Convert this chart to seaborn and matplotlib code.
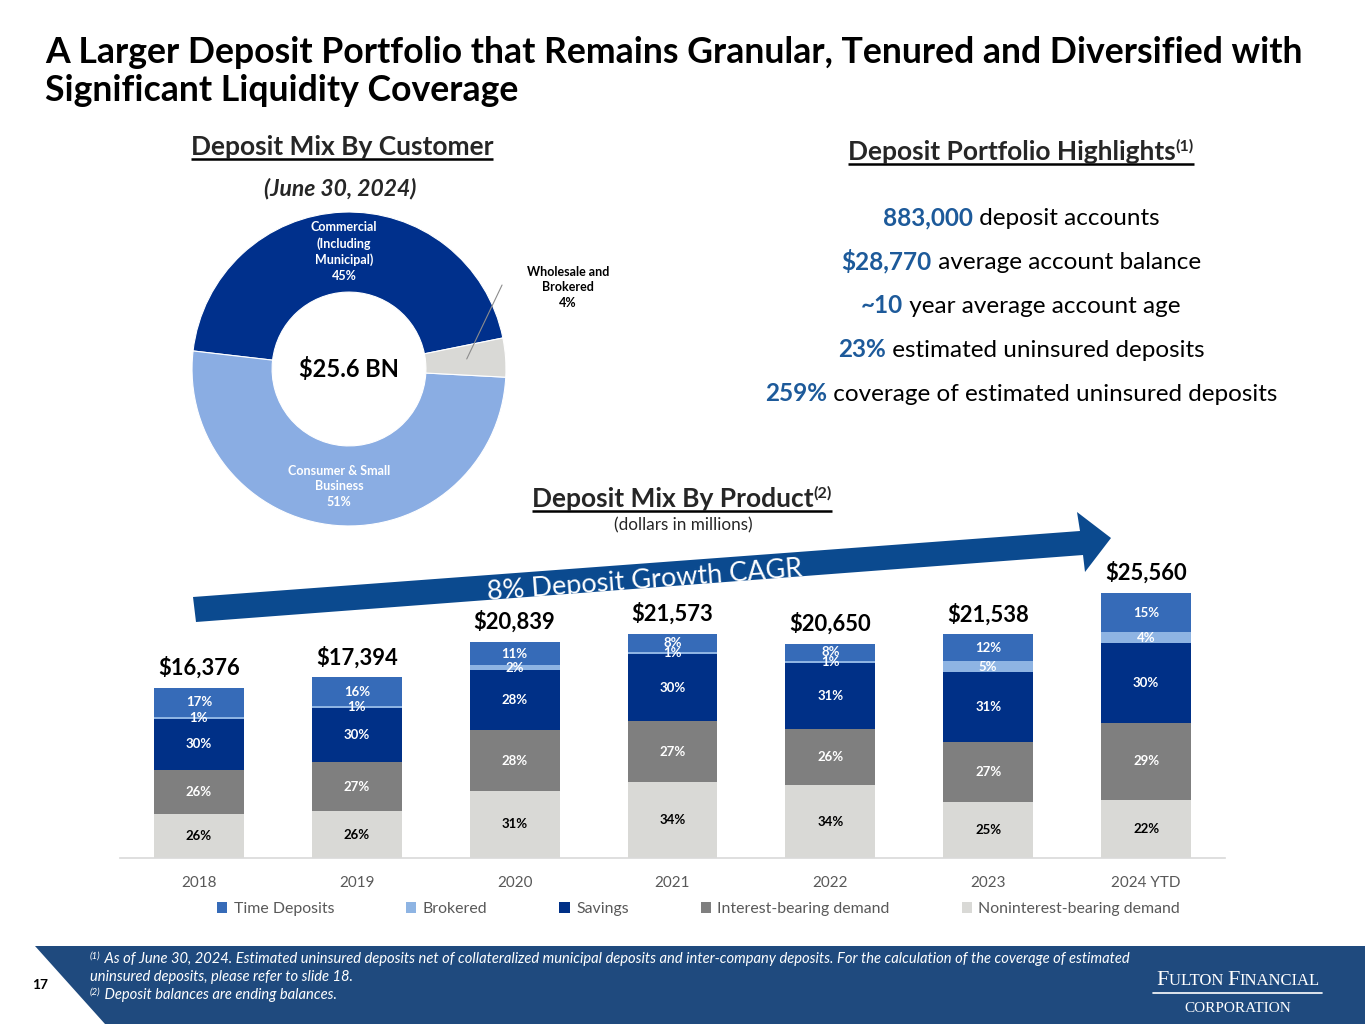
import matplotlib
matplotlib.use('Agg')
import matplotlib.pyplot as plt
import seaborn as sns
import pandas as pd
import numpy as np
from matplotlib.patches import Polygon, Patch

# Data
years = ['2018', '2019', '2020', '2021', '2022', '2023', '2024 YTD']
totals = [16376, 17394, 20839, 21573, 20650, 21538, 25560]
# percent of total, bottom -> top of each stack
nonint_pct = [26, 26, 31, 34, 34, 25, 22]
intbear_pct = [26, 27, 28, 27, 26, 27, 29]
savings_pct = [30, 30, 28, 30, 31, 31, 30]
brokered_pct = [1, 1, 2, 1, 1, 5, 4]
time_pct = [17, 16, 11, 8, 8, 12, 15]

series_names = ['Time Deposits', 'Brokered', 'Savings', 'Interest-bearing demand', 'Noninterest-bearing demand']
series_colors = ['#366BB8', '#8EB4E3', '#003087', '#7F7F7F', '#D9D9D6']

customer_labels = ['Commercial\n(Including\nMunicipal)\n45%', 'Consumer & Small\nBusiness\n51%', 'Wholesale and\nBrokered\n4%']
customer_pct = [45, 51, 4]
customer_colors = ['#00308C', '#8AADE3', '#D9D9D6']
donut_total = '$25.6 BN'

highlights = [('883,000', ' deposit accounts'),
              ('$28,770', ' average account balance'),
              ('~10', ' year average account age'),
              ('23%', ' estimated uninsured deposits'),
              ('259%', ' coverage of estimated uninsured deposits')]

BLUE_TXT = '#1D5A9A'
FOOTER = '#1F4A7E'
ARROW = '#0B4A8F'

sns.set_theme(style='white')
plt.rcParams['font.family'] = ['Lato', 'DejaVu Sans']

fig = plt.figure(figsize=(13.65, 10.24), dpi=100)
renderer = fig.canvas.get_renderer()

# overlay axes in pixel coordinates for slide decorations
ov = fig.add_axes([0, 0, 1, 1], zorder=5)
ov.set_xlim(0, 1365)
ov.set_ylim(1024, 0)
ov.axis('off')


def rich(x, y, parts, ha='center', underline=False, ucolor='black'):
    # parts: (text, kwargs, dy)
    objs = [ov.text(0, y + dy, s, ha='left', va='baseline', **kw) for s, kw, dy in parts]
    widths = [t.get_window_extent(renderer).width for t in objs]
    x0 = x - sum(widths) / 2 if ha == 'center' else x
    cur = x0
    for t, w in zip(objs, widths):
        t.set_x(cur)
        cur += w
    if underline:
        ov.plot([x0, cur], [y + 4, y + 4], color=ucolor, lw=1.8, solid_capstyle='butt')


# title
ov.text(45, 63, 'A Larger Deposit Portfolio that Remains Granular, Tenured and Diversified with',
        fontsize=25.7, fontweight='bold', color='black', va='baseline')
ov.text(45, 101, 'Significant Liquidity Coverage',
        fontsize=25.7, fontweight='bold', color='black', va='baseline')

# section headings
rich(342, 155, [('Deposit Mix By Customer', dict(fontsize=19, fontweight='bold'), 0)], underline=True)
ov.text(340, 195, '(June 30, 2024)', fontsize=16.5, fontweight='bold', style='italic', ha='center', va='baseline')

rich(1021, 160, [('Deposit Portfolio Highlights', dict(fontsize=19, fontweight='bold'), 0),
                 ('(1)', dict(fontsize=11.5, fontweight='bold'), -9)], underline=True)

for i, (num, rest) in enumerate(highlights):
    rich(1021, 225 + i * 44, [(num, dict(fontsize=17.5, fontweight='bold', color=BLUE_TXT), 0),
                              (rest, dict(fontsize=17.5, color='black'), 0)])

rich(682, 507, [('Deposit Mix By Product', dict(fontsize=19, fontweight='bold'), 0),
                ('(2)', dict(fontsize=11.5, fontweight='bold'), -9)], underline=True)
ov.text(683, 530, '(dollars in millions)', fontsize=12.3, ha='center', va='baseline')

# growth arrow
ov.add_patch(Polygon([(193, 597), (1080, 531), (1077, 512), (1111, 538),
                      (1085, 572), (1083, 555), (196, 622)], closed=True,
                     facecolor=ARROW, edgecolor='none'))
ov.text(645, 588, '8% Deposit Growth CAGR', fontsize=19.5, color='white', rotation=4.3,
        rotation_mode='anchor', ha='center', va='baseline')

# footer
ov.add_patch(Polygon([(35, 946), (1365, 946), (1365, 1024), (105, 1024)], closed=True,
                     facecolor=FOOTER, edgecolor='none'))
ov.text(40, 989, '17', fontsize=10, fontweight='bold', color='black', ha='center', va='baseline')
fn = dict(fontsize=10.6, style='italic', color='white')
sup = dict(fontsize=7, style='italic', color='white')
rich(90, 963, [('(1)', sup, -4), (' As of June 30, 2024. Estimated uninsured deposits net of collateralized municipal deposits '
                                 'and inter-company deposits. For the calculation of the coverage of estimated', fn, 0)], ha='left')
rich(90, 981, [('uninsured deposits, please refer to slide 18.', fn, 0)], ha='left')
rich(90, 999, [('(2)', sup, -4), (' Deposit balances are ending balances.', fn, 0)], ha='left')

logo_big = dict(fontsize=16, color='white', family='Liberation Serif')
logo_small = dict(fontsize=12, color='white', family='Liberation Serif')
rich(1238, 985, [('F', logo_big, 0), ('ULTON ', logo_small, 0), ('F', logo_big, 0), ('INANCIAL', logo_small, 0)])
ov.plot([1153, 1322], [993, 993], color='white', lw=1.2)
ov.text(1238, 1012, 'CORPORATION', fontsize=11, color='white', family='Liberation Serif',
        ha='center', va='baseline')

# donut
dax = fig.add_axes([179 / 1365, 1 - 539 / 1024, 340 / 1365, 340 / 1024])
wedges, _ = dax.pie(customer_pct, colors=customer_colors, startangle=11.4, counterclock=True,
                    radius=1, wedgeprops=dict(width=0.51, edgecolor='white', linewidth=0.8))
dax.set_aspect('equal')
dax.set_xlim(-1.083, 1.083)
dax.set_ylim(-1.083, 1.083)
for w, lab in zip(wedges[:2], customer_labels[:2]):
    ang = np.deg2rad((w.theta1 + w.theta2) / 2)
    dax.text(0.75 * np.cos(ang), 0.75 * np.sin(ang), lab, ha='center', va='center',
             color='white', fontsize=9, fontweight='bold', linespacing=1.35)
dax.text(1.395, 0.522, customer_labels[2], ha='center', va='center', color='black',
         fontsize=9, fontweight='bold', linespacing=1.35, clip_on=False)
dax.plot([0.75, 0.975], [0.064, 0.535], color='#8C8C8C', lw=0.8)
dax.text(0, 0, donut_total, ha='center', va='center', fontsize=17, fontweight='bold', color='black')

# stacked bars
ax = fig.add_axes([120 / 1365, 1 - 858 / 1024, 1105 / 1365, 298 / 1024])
ax.patch.set_visible(False)
layers = [time_pct, brokered_pct, savings_pct, intbear_pct, nonint_pct]  # top -> bottom
stack = np.array(layers[::-1], dtype=float)  # bottom -> top
cum = np.cumsum(stack, axis=0) * np.array(totals) / 100.0
df = pd.DataFrame({'year': years})
for j in range(len(stack)):
    df[f'cum{j}'] = cum[j]

cols_bottom_up = series_colors[::-1]
for j in range(len(stack) - 1, -1, -1):
    sns.barplot(data=df, x='year', y=f'cum{j}', color=cols_bottom_up[j], saturation=1,
                width=0.57, errorbar=None, ax=ax, linewidth=0)

for j in range(len(stack)):
    lower = cum[j - 1] if j > 0 else np.zeros(len(years))
    for i in range(len(years)):
        mid = (lower[i] + cum[j][i]) / 2
        ax.text(i, mid, f'{int(stack[j][i])}%', ha='center', va='center',
                color='black' if j == 0 else 'white', fontsize=9.5, fontweight='bold')

for i, t in enumerate(totals):
    ax.annotate(f'${t:,}', (i, t), xytext=(0, 20), textcoords='offset pixels', ha='center',
                va='center', fontsize=15.8, fontweight='bold', color='black')

ax.set_xlim(-0.5, 6.5)
ax.set_ylim(0, 28700)
ax.set_xlabel('')
ax.set_ylabel('')
ax.set_yticks([])
ax.set_xticks(range(len(years)))
ax.set_xticklabels(years)
ax.tick_params(axis='x', length=0, pad=13, labelsize=11, labelcolor='#595959')
for s in ['top', 'left', 'right']:
    ax.spines[s].set_visible(False)
ax.spines['bottom'].set_color('#D9D9D9')
ax.spines['bottom'].set_linewidth(1.2)

handles = [Patch(facecolor=c, edgecolor='none') for c in series_colors]
leg = ax.legend(handles, series_names, loc='center', bbox_to_anchor=(698.5 / 1365, 1 - 909 / 1024),
                bbox_transform=fig.transFigure, ncol=5, frameon=False, fontsize=11.4,
                columnspacing=4.55, handlelength=0.65, handleheight=0.65, handletextpad=0.4)
for t in leg.get_texts():
    t.set_color('#595959')

fig.savefig('out.png', dpi=100)
